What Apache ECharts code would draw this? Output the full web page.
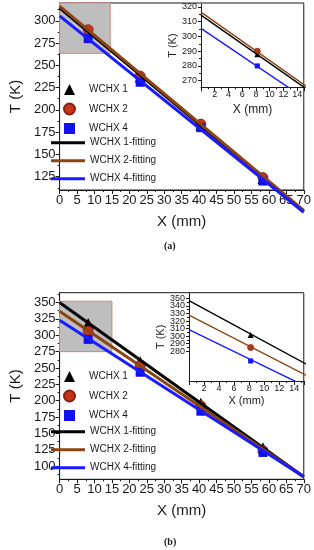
<!DOCTYPE html>
<html><head><meta charset="utf-8">
<script src="https://cdn.jsdelivr.net/npm/echarts@6/dist/echarts.min.js"></script>
<style>html,body{margin:0;padding:0;background:#fff}#c{width:314px;height:550px}</style>
</head><body><div id="c"></div>
<script>
// ---------- data ----------
const pointNames = ['WCHX 1', 'WCHX 2', 'WCHX 4'];
const fitNames = ['WCHX 1-fitting', 'WCHX 2-fitting', 'WCHX 4-fitting'];
const xPoints = [8.2, 23.1, 40.5, 58.3];
const fitX = [0, 70];
// panel (a)
const aWCHX1 = [288, 237, 183, 123];
const aWCHX2 = [290, 238, 184, 124];
const aWCHX4 = [280, 231, 180, 120];
const aFit1 = [314.5, 86];
const aFit2 = [316.5, 87];
const aFit4 = [305.5, 85];
const aZoomX = [0, 14.5];
const aZoomT = [263.5, 320];
// panel (b)
const bWCHX1 = [318, 259.6, 196, 128];
const bWCHX2 = [306.3, 254.6, 192.4, 124];
const bWCHX4 = [293.7, 243.5, 184, 121];
const bFit1 = [350, 84];
const bFit2 = [336.6, 84];
const bFit4 = [323, 84];
const bZoomX = [0, 15];
const bZoomT = [275, 352];
// tick labels
const aMainTTicks = [125, 150, 175, 200, 225, 250, 275, 300];
const aMainTMinor = [112.5, 137.5, 162.5, 187.5, 212.5, 237.5, 262.5, 287.5, 312.5];
const bMainTTicks = [100, 125, 150, 175, 200, 225, 250, 275, 300, 325, 350];
const bMainTMinor = [87.5, 112.5, 137.5, 162.5, 187.5, 212.5, 237.5, 262.5, 287.5, 312.5, 337.5, 362.5];
const aInsetTTicks = [270, 280, 290, 300, 310, 320];
const aInsetTMinor = [275, 285, 295, 305, 315];
const bInsetTTicksA = [280, 300, 320, 340];
const bInsetTTicksB = [290, 310, 330, 350];
const bInsetTMinor = [285, 295, 305, 315, 325, 335, 345];

// ---------- helpers ----------
const FF = 'Arial, "Liberation Sans", sans-serif';
const INK = '#1a1a1a';
const pointColors = ['#000000', '#c4361c', '#1010ee'];
const pointSymbols = ['triangle', 'circle', 'rect'];
const fitColors = ['#000000', '#8b4513', '#1a1aff'];
const pairs = (xs, ys) => xs.map((x, i) => [x, ys[i]]);

function xAx(grid, min, max, interval, fs, name, nameGap, nameFs, extra) {
  return Object.assign({
    gridIndex: grid, type: 'value', position: 'bottom', min: min, max: max, interval: interval,
    axisLine: { lineStyle: { color: INK, width: 1 } },
    axisTick: { show: true, length: 4, lineStyle: { color: INK } },
    minorTick: { show: true, splitNumber: 2, length: 2, lineStyle: { color: INK } },
    splitLine: { show: false },
    axisLabel: { fontSize: fs, color: INK, fontFamily: FF, margin: 4 },
    name: name, nameLocation: 'middle', nameGap: nameGap,
    nameTextStyle: { fontSize: nameFs, color: INK, fontFamily: FF }
  }, extra || {});
}
function yAx(grid, min, max, ticks, fs, lh, name, nameGap, nameFs, tickLen, showLine) {
  return {
    gridIndex: grid, type: 'value', position: 'left', offset: 0, min: min, max: max,
    axisLine: { show: showLine !== false, lineStyle: { color: INK, width: 1 } },
    axisTick: { show: true, length: tickLen, customValues: ticks, lineStyle: { color: INK } },
    splitLine: { show: false },
    axisLabel: { customValues: ticks, fontSize: fs, lineHeight: lh, color: INK, fontFamily: FF, margin: 4,
                 showMinLabel: true, showMaxLabel: true, hideOverlap: false },
    name: name, nameLocation: 'middle', nameGap: nameGap, nameRotate: 90,
    nameTextStyle: { fontSize: nameFs, color: INK, fontFamily: FF }
  };
}
function yMinor(grid, min, max, ticks) {
  return {
    gridIndex: grid, type: 'value', position: 'left', offset: 0, min: min, max: max,
    axisLine: { show: false },
    axisTick: { show: true, length: 2, customValues: ticks, lineStyle: { color: INK } },
    axisLabel: { show: false }, splitLine: { show: false }
  };
}

function panelSeries(xi, yi, pts, fits, zoomX, zoomT, main) {
  const s = [];
  if (zoomX) {
    s.push({
      type: 'line', name: 'zoom', xAxisIndex: xi, yAxisIndex: yi, data: [], z: 1,
      markArea: {
        silent: true,
        itemStyle: { color: '#bebebe', borderColor: '#d9836f', borderWidth: 1 },
        data: [[{ coord: [zoomX[0], zoomT[1]] }, { coord: [zoomX[1], zoomT[0]] }]]
      }
    });
  }
  pts.forEach((d, i) => {
    s.push({
      type: 'scatter', name: pointNames[i], xAxisIndex: xi, yAxisIndex: yi,
      data: pairs(xPoints, d), symbol: pointSymbols[i],
      symbolSize: main ? [11, 10, 9][i] : [6, 6, 5][i],
      itemStyle: { color: pointColors[i], borderColor: i === 1 ? '#8a2010' : pointColors[i], borderWidth: i === 1 ? 0.8 : 0, opacity: 1 },
      z: 2
    });
  });
  fits.forEach((d, i) => {
    s.push({
      type: 'line', name: fitNames[i], xAxisIndex: xi, yAxisIndex: yi,
      data: pairs(fitX, d), symbol: 'none', showSymbol: false, clip: !main,
      lineStyle: { color: fitColors[i], width: main ? 3 : 1.4 },
      itemStyle: { color: fitColors[i] },
      z: 3
    });
  });
  return s;
}

function pointLegend(top) {
  return {
    orient: 'vertical', left: 63, top: top, padding: 0, itemWidth: 11, itemHeight: 11, itemGap: 7,
    data: pointNames.map((n, i) => ({ name: n, icon: ['triangle', 'circle', 'rect'][i] })),
    textStyle: { fontSize: 10, lineHeight: 12, color: INK, fontFamily: FF, padding: [0, 0, 0, 9] },
    selectedMode: false
  };
}
function fitLegend(top) {
  return {
    orient: 'vertical', left: 51, top: top, padding: 0, itemWidth: 34, itemHeight: 3, itemGap: 6,
    data: fitNames.map(n => ({ name: n, icon: 'rect' })),
    textStyle: { fontSize: 10, lineHeight: 12, color: INK, fontFamily: FF },
    selectedMode: false
  };
}

const option = {
  animation: false,
  backgroundColor: '#ffffff',
  grid: [
    { left: 50, top: 3, width: 254, height: 187, show: true, borderColor: INK, borderWidth: 1, backgroundColor: 'transparent' },
    { left: 201, top: 4, width: 103, height: 83.3 },
    { left: 50, top: 292.7, width: 254, height: 186.6, show: true, borderColor: INK, borderWidth: 1, backgroundColor: 'transparent' },
    { left: 189, top: 292.7, width: 115, height: 88.3 }
  ],
  xAxis: [
    xAx(0, 0, 70, 5, 13, 'X (mm)', 24, 15),
    xAx(1, 0, 15, 2, 9, 'X (mm)', 16, 12, { axisLabel: { fontSize: 9, color: INK, fontFamily: FF, margin: 3, showMinLabel: false, showMaxLabel: false } }),
    xAx(2, 0, 70, 5, 13, 'X (mm)', 24, 15),
    xAx(3, 0, 15.3, 2, 9, 'X (mm)', 14, 11, { axisLabel: { fontSize: 9, color: INK, fontFamily: FF, margin: 3, showMinLabel: false, showMaxLabel: false } })
  ],
  yAxis: [
    yAx(0, 110, 320, aMainTTicks, 13, 15, 'T (K)', 30, 15, 4),
    yMinor(0, 110, 320, aMainTMinor),
    yAx(1, 265.5, 322, aInsetTTicks, 9, 9, 'T (K)', 18, 11, 3),
    yMinor(1, 265.5, 322, aInsetTMinor),
    yAx(2, 80, 365, bMainTTicks, 13, 15, 'T (K)', 30, 15, 4),
    yMinor(2, 80, 365, bMainTMinor),
    yAx(3, 240.8, 357.4, bInsetTTicksA, 9, 8, 'T (K)', 20, 11, 3),
    yMinor(3, 240.8, 357.4, bInsetTMinor),
    { gridIndex: 3, type: 'value', position: 'left', offset: 0, min: 275, max: 357.5, show: false },
    yAx(3, 240.8, 357.4, bInsetTTicksB, 9, 8, '', 20, 11, 3, false)
  ],
  legend: [
    pointLegend(83.5), fitLegend(136.7),
    pointLegend(370.5), fitLegend(425.7)
  ],
  graphic: [
    { type: 'text', left: 164, top: 241, style: { text: '(a)', font: 'bold 10px "Liberation Serif", "Times New Roman", serif', fill: INK } },
    { type: 'text', left: 164, top: 537, style: { text: '(b)', font: 'bold 10px "Liberation Serif", "Times New Roman", serif', fill: INK } }
  ],
  series: [].concat(
    panelSeries(0, 0, [aWCHX1, aWCHX2, aWCHX4], [aFit1, aFit2, aFit4], aZoomX, aZoomT, true),
    panelSeries(1, 2, [aWCHX1, aWCHX2, aWCHX4], [aFit1, aFit2, aFit4], null, null, false),
    panelSeries(2, 4, [bWCHX1, bWCHX2, bWCHX4], [bFit1, bFit2, bFit4], bZoomX, bZoomT, true),
    panelSeries(3, 8, [bWCHX1, bWCHX2, bWCHX4], [bFit1, bFit2, bFit4], null, null, false)
  )
};
echarts.init(document.getElementById('c'), null, { renderer: 'canvas' }).setOption(option);
</script>
</body></html>
